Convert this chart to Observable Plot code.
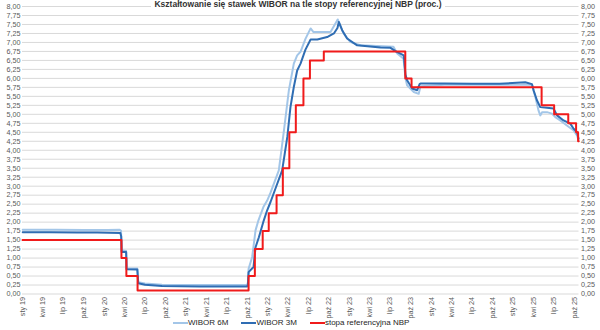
<!DOCTYPE html>
<html>
<head>
<meta charset="utf-8">
<script src="https://cdn.jsdelivr.net/npm/d3@7"></script>
<script src="https://cdn.jsdelivr.net/npm/@observablehq/plot@0.6"></script>
<style>
  html, body { margin: 0; padding: 0; background: #fff; }
  #wrap { position: relative; width: 600px; height: 330px; overflow: hidden; font-family: "Liberation Sans", Arial, sans-serif; }
  #title { position: absolute; left: 0; top: 0px; width: 596px; text-align: center; font-weight: bold; font-size: 8.5px; line-height: 9px; color: #333; white-space: nowrap; }
  #title span { background: #fff; padding: 0 3px; }
  #chart { position: absolute; left: 0; top: 0; }
  #legend { position: absolute; left: 173px; top: 318px; display: flex; align-items: center; font-size: 8px; line-height: 10px; color: #262626; white-space: nowrap; }
  .item { display: flex; align-items: center; margin-right: 13px; }
  .sw { width: 15px; height: 2.5px; margin-right: 0px; }
</style>
</head>
<body>
<div id="wrap">
  <div id="chart"></div>
  <div id="title"><span id="titleText"></span></div>
  <div id="legend"></div>
</div>
<script>
const titleText = "Kształtowanie się stawek WIBOR na tle stopy referencyjnej NBP (proc.)";
const seriesNames = ["WIBOR 6M", "WIBOR 3M", "stopa referencyjna NBP"];
const seriesColors = ["#a3c6e8", "#2f6db3", "#f01b1b"];
const monthNames = ["sty","lut","mar","kwi","maj","cze","lip","sie","wrz","paź","lis","gru"];
const yTicks = [0,0.25,0.5,0.75,1,1.25,1.5,1.75,2,2.25,2.5,2.75,3,3.25,3.5,3.75,4,4.25,4.5,4.75,5,5.25,5.5,5.75,6,6.25,6.5,6.75,7,7.25,7.5,7.75,8];
const xStart = "2019-01-01";
const xEnd = "2025-10-22";

const wibor3m = [
["2019-01-02",1.72],["2019-05-01",1.72],["2019-09-01",1.71],["2019-12-01",1.71],["2020-03-13",1.70],["2020-03-17",1.60],["2020-03-19",1.17],["2020-04-08",1.17],["2020-04-10",0.69],["2020-05-28",0.68],["2020-06-01",0.30],["2020-07-01",0.26],["2020-09-15",0.22],["2021-03-01",0.21],["2021-09-30",0.21],["2021-10-04",0.26],["2021-10-07",0.61],["2021-10-29",0.75],["2021-11-07",1.30],["2021-11-22",1.58],["2021-12-14",2.05],["2021-12-29",2.33],["2022-01-13",2.56],["2022-02-05",2.95],["2022-03-06",3.44],["2022-03-29",4.37],["2022-04-12",5.20],["2022-04-27",5.76],["2022-05-12",6.22],["2022-05-27",6.41],["2022-06-18",6.80],["2022-07-11",7.08],["2022-08-10",7.08],["2022-09-23",7.15],["2022-10-23",7.25],["2022-11-08",7.40],["2022-11-14",7.57],["2022-11-29",7.34],["2022-12-21",7.11],["2023-02-04",6.92],["2023-05-19",6.86],["2023-07-03",6.85],["2023-07-25",6.76],["2023-08-31",6.64],["2023-09-08",6.10],["2023-09-15",5.95],["2023-10-08",5.72],["2023-10-30",5.67],["2023-11-10",5.84],["2023-11-14",5.86],["2024-03-01",5.86],["2024-07-01",5.85],["2024-11-01",5.85],["2025-02-24",5.89],["2025-03-26",5.84],["2025-04-02",5.67],["2025-04-17",5.39],["2025-05-02",5.20],["2025-06-01",5.18],["2025-06-30",5.16],["2025-07-16",4.97],["2025-08-14",4.83],["2025-09-13",4.74],["2025-09-28",4.60],["2025-10-13",4.51],["2025-10-20",4.32]
];

const wibor6m = [
["2019-01-02",1.79],["2019-06-01",1.79],["2019-10-01",1.78],["2020-01-15",1.78],["2020-03-10",1.79],["2020-03-16",1.76],["2020-03-19",1.22],["2020-04-08",1.20],["2020-04-10",0.72],["2020-05-28",0.71],["2020-06-01",0.33],["2020-07-01",0.29],["2020-09-15",0.26],["2021-09-30",0.25],["2021-10-04",0.32],["2021-10-07",0.70],["2021-10-23",1.03],["2021-11-07",1.77],["2021-11-20",2.05],["2021-12-12",2.42],["2021-12-29",2.60],["2022-01-13",2.82],["2022-02-19",3.44],["2022-03-14",4.55],["2022-04-05",5.67],["2022-04-27",6.41],["2022-05-12",6.64],["2022-05-27",6.74],["2022-06-18",7.10],["2022-07-11",7.39],["2022-07-24",7.29],["2022-10-08",7.29],["2022-10-30",7.53],["2022-11-09",7.64],["2022-12-05",7.25],["2023-01-05",7.01],["2023-02-19",6.92],["2023-07-16",6.88],["2023-08-02",6.69],["2023-08-30",6.55],["2023-09-08",6.00],["2023-09-15",5.81],["2023-10-15",5.62],["2023-11-06",5.57],["2023-11-14",5.78],["2024-03-01",5.82],["2024-11-01",5.82],["2025-03-26",5.82],["2025-04-10",5.48],["2025-04-24",5.11],["2025-05-02",4.97],["2025-05-10",5.06],["2025-06-01",5.06],["2025-06-23",5.02],["2025-07-08",4.92],["2025-07-30",4.83],["2025-08-29",4.69],["2025-09-28",4.55],["2025-10-13",4.41],["2025-10-20",4.28]
];

const nbpRate = [
["2019-01-01",1.50],["2020-03-18",1.00],["2020-04-09",0.50],["2020-05-29",0.10],["2021-10-07",0.50],["2021-11-04",1.25],["2021-12-09",1.75],["2022-01-05",2.25],["2022-02-09",2.75],["2022-03-09",3.50],["2022-04-07",4.50],["2022-05-06",5.25],["2022-06-09",6.00],["2022-07-08",6.50],["2022-09-08",6.75],["2023-09-07",6.00],["2023-10-05",5.75],["2025-05-08",5.25],["2025-07-03",5.00],["2025-09-04",4.75],["2025-10-09",4.50],["2025-10-18",4.25],["2025-10-21",4.25]
];

const toRows = arr => arr.map(([d, v]) => ({date: new Date(d), value: v}));
const r3 = toRows(wibor3m), r6 = toRows(wibor6m), rN = toRows(nbpRate);

const xTicks = d3.utcMonth.every(3).range(new Date(xStart), new Date(xEnd));
const fmtX = d => monthNames[d.getUTCMonth()] + " " + String(d.getUTCFullYear()).slice(2);
const fmtY = d => d.toFixed(2).replace(".", ",");

const chart = Plot.plot({
  width: 600,
  height: 318,
  marginLeft: 22,
  marginRight: 21.5,
  marginTop: 6,
  marginBottom: 24.5,
  style: {fontFamily: "Liberation Sans, Arial, sans-serif", fontSize: "7.2px", color: "#595959", background: "transparent", overflow: "visible"},
  x: {type: "utc", domain: [new Date(xStart), new Date(xEnd)]},
  y: {domain: [0, 8]},
  marks: [
    Plot.gridY(yTicks, {stroke: "#d9d9d9", strokeOpacity: 1, strokeWidth: 1}),
    Plot.axisY(yTicks, {anchor: "left", tickSize: 0, tickPadding: 2, tickFormat: fmtY, label: null}),
    Plot.axisY(yTicks, {anchor: "right", tickSize: 0, tickPadding: 2, tickFormat: fmtY, label: null}),
    Plot.axisX(xTicks, {anchor: "bottom", tickSize: 0, tickPadding: 3, tickRotate: -90, tickFormat: fmtX, label: null}),
    Plot.line(r6, {x: "date", y: "value", stroke: seriesColors[0], strokeWidth: 2}),
    Plot.line(r3, {x: "date", y: "value", stroke: seriesColors[1], strokeWidth: 2}),
    Plot.line(rN, {x: "date", y: "value", curve: "step-after", stroke: seriesColors[2], strokeWidth: 2})
  ]
});
document.getElementById("chart").appendChild(chart);
document.getElementById("titleText").textContent = titleText;

const leg = document.getElementById("legend");
seriesNames.forEach((n, i) => {
  const it = document.createElement("div");
  it.className = "item";
  const sw = document.createElement("div");
  sw.className = "sw";
  sw.style.background = seriesColors[i];
  const t = document.createElement("span");
  t.textContent = n;
  it.appendChild(sw); it.appendChild(t);
  leg.appendChild(it);
});
</script>
</body>
</html>
